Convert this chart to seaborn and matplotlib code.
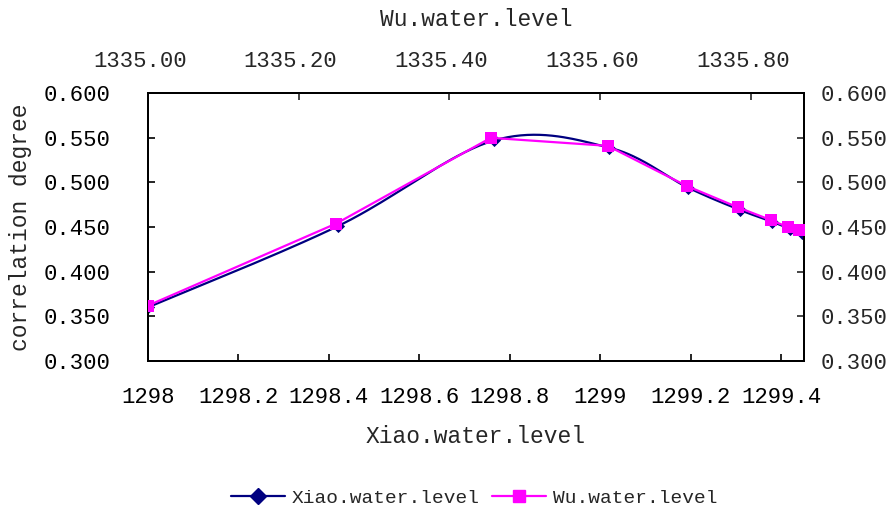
import numpy as np
import matplotlib
matplotlib.use("Agg")
import matplotlib.pyplot as plt
import matplotlib.transforms as mtransforms
import seaborn as sns
from matplotlib.lines import Line2D
from matplotlib.ticker import FuncFormatter

# --- data ---
xiao_level = [1298.00, 1298.42, 1298.765, 1299.02, 1299.195, 1299.31, 1299.38, 1299.42, 1299.447]
xiao_corr = [0.360, 0.451, 0.547, 0.539, 0.494, 0.469, 0.456, 0.448, 0.443]
wu_level = [1335.00, 1335.25, 1335.455, 1335.61, 1335.715, 1335.783, 1335.826, 1335.849, 1335.864]
wu_corr = [0.362, 0.454, 0.550, 0.541, 0.496, 0.472, 0.458, 0.450, 0.447]

xiao_ticks = [1298.0, 1298.2, 1298.4, 1298.6, 1298.8, 1299.0, 1299.2, 1299.4]
wu_ticks = [1335.0, 1335.2, 1335.4, 1335.6, 1335.8]
corr_ticks = [0.30, 0.35, 0.40, 0.45, 0.50, 0.55, 0.60]

xiao_lim = (1298.0, 1299.45)
wu_lim = (1335.0, 1335.87)
corr_lim = (0.30, 0.60)

NAVY = "#000080"
MAGENTA = "#FF00FF"


def smooth_curve(x, y, xlim, ylim, n=40):
    """Excel-like smoothed line (Catmull-Rom bezier) computed in screen-ish space."""
    w, h = 656.0, 268.0
    px = (np.asarray(x) - xlim[0]) / (xlim[1] - xlim[0]) * w
    py = (np.asarray(y) - ylim[0]) / (ylim[1] - ylim[0]) * h
    p = np.column_stack([px, py])
    p = np.vstack([p[0], p, p[-1]])
    out = []
    for i in range(1, len(p) - 2):
        p0, p1, p2, p3 = p[i - 1], p[i], p[i + 1], p[i + 2]
        c1 = p1 + (p2 - p0) / 6.0
        c2 = p2 - (p3 - p1) / 6.0
        t = np.linspace(0, 1, n)[:, None]
        seg = ((1 - t) ** 3) * p1 + 3 * ((1 - t) ** 2) * t * c1 + 3 * (1 - t) * t ** 2 * c2 + t ** 3 * p2
        out.append(seg if i == 1 else seg[1:])
    out = np.vstack(out)
    sx = out[:, 0] / w * (xlim[1] - xlim[0]) + xlim[0]
    sy = out[:, 1] / h * (ylim[1] - ylim[0]) + ylim[0]
    return sx, sy


sns.set_theme(style="ticks")
plt.rcParams["font.family"] = ["Liberation Mono", "DejaVu Sans"]
plt.rcParams["axes.linewidth"] = 1.3

fig, ax = plt.subplots(figsize=(8.96, 5.12), dpi=100)
fig.subplots_adjust(left=0.165, right=0.897, top=0.818, bottom=0.295)

# Xiao series on the bottom axis (smoothed line + diamonds)
sx, sy = smooth_curve(xiao_level, xiao_corr, xiao_lim, corr_lim)
ax.plot(sx, sy, color=NAVY, lw=1.6, zorder=2)
sns.scatterplot(x=xiao_level, y=xiao_corr, ax=ax, marker="D", s=45,
                color=NAVY, edgecolor=NAVY, linewidth=0, zorder=3)
ax.set_xlim(*xiao_lim)
ax.set_ylim(*corr_lim)
ax.set_xticks(xiao_ticks)
ax.set_yticks(corr_ticks)
ax.xaxis.set_major_formatter(FuncFormatter(lambda v, p: "%g" % round(v, 2)))
ax.yaxis.set_major_formatter(FuncFormatter(lambda v, p: "%.3f" % v))
ax.tick_params(axis="both", direction="in", length=5, width=1.2, labelsize=16, colors="black")
ax.tick_params(axis="y", pad=27)
ax.tick_params(axis="x", pad=19)
ax.set_xlabel("Xiao.water.level", fontsize=16.5, labelpad=12)
ax.set_ylabel("correlation degree", fontsize=16.5, labelpad=8)

# right side labels repeat the correlation scale
axr = ax.twinx()
axr.set_ylim(*corr_lim)
axr.set_yticks(corr_ticks)
axr.yaxis.set_major_formatter(FuncFormatter(lambda v, p: "%.3f" % v))
axr.tick_params(axis="y", direction="in", length=5, width=1.2, labelsize=16, pad=12)

# Wu series on the top axis
ax2 = ax.twiny()
sns.lineplot(x=wu_level, y=wu_corr, ax=ax2, color=MAGENTA, lw=1.6, sort=False,
             marker="s", markersize=9, markeredgewidth=0, zorder=4)
ax2.set_xlim(*wu_lim)
ax2.set_ylim(*corr_lim)
ax2.set_xticks(wu_ticks)
ax2.xaxis.set_major_formatter(FuncFormatter(lambda v, p: "%.2f" % v))
ax2.tick_params(axis="x", direction="in", length=5, width=1.2, labelsize=16, pad=15)
ax2.set_xlabel("Wu.water.level", fontsize=16.5, labelpad=18)

# top labels sit a little left of their ticks in the original
shift = mtransforms.ScaledTranslation(-8 / 100, 0, fig.dpi_scale_trans)
for lab in ax2.get_xticklabels():
    lab.set_transform(lab.get_transform() + shift)

for a in (ax, axr, ax2):
    for s in a.spines.values():
        s.set_color("black")

handles = [
    Line2D([], [], color=NAVY, lw=1.6, marker="D", markersize=8),
    Line2D([], [], color=MAGENTA, lw=1.6, marker="s", markersize=8),
]
fig.legend(handles, ["Xiao.water.level", "Wu.water.level"], loc="center",
           bbox_to_anchor=(0.529, 0.027), ncol=2, frameon=False, fontsize=14,
           handlelength=2.8, columnspacing=0.6, handletextpad=0.35)

fig.savefig("out.png", dpi=100)
